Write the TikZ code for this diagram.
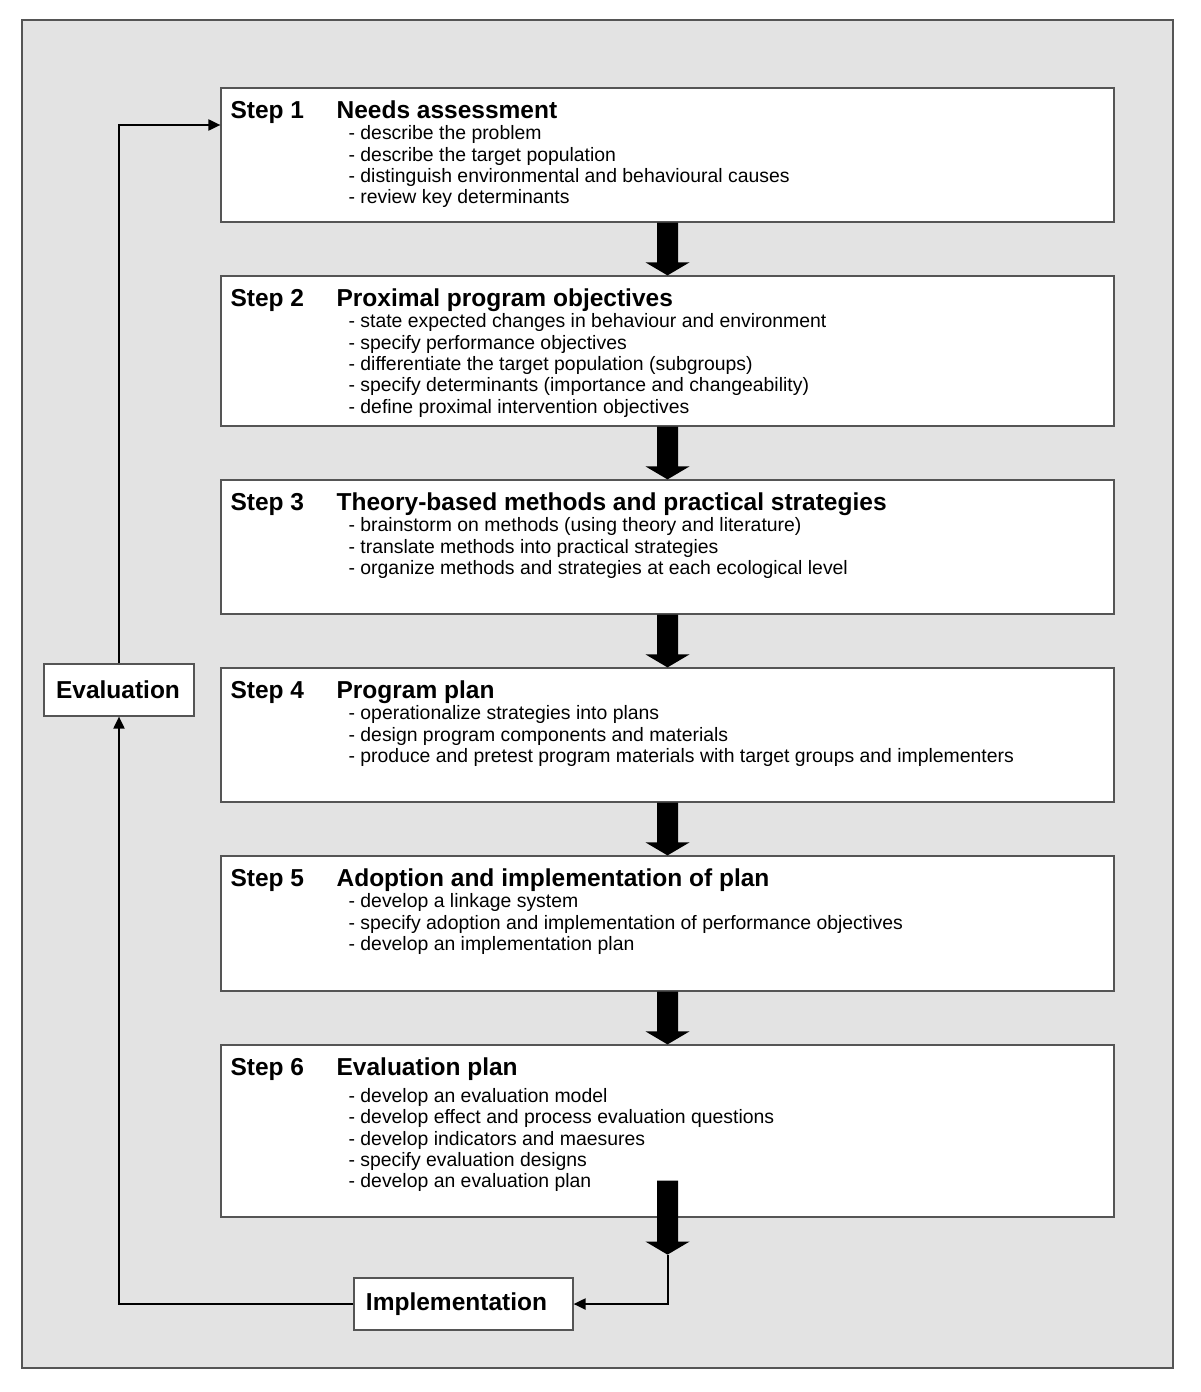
\documentclass[tikz,border=0pt]{standalone}
\usepackage{fontspec}
\setmainfont{Liberation Sans}
\usetikzlibrary{arrows.meta,calc}
\definecolor{bggray}{HTML}{E3E3E3}
\definecolor{edgegray}{HTML}{555555}
\tikzset{
  stepbox/.style={draw=edgegray, line width=1.2pt, fill=white, minimum width=893pt, inner sep=0pt},
  smallbox/.style={draw=edgegray, line width=1.2pt, fill=white, minimum height=52pt, inner sep=0pt, font=\fontsize{24.5}{28}\selectfont\bfseries},
  boldtxt/.style={inner sep=0pt, font=\fontsize{24.5}{28}\selectfont\bfseries},
  bodytxt/.style={inner sep=0pt, font=\fontsize{19.4}{21.3}\selectfont},
  thinarrow/.style={line width=2pt, -{Triangle[length=12pt,width=11pt]}},
}
\newcommand\mkstep[5]{%
  \node[stepbox, minimum height=#4pt] (#1) at (667.5,#3) {};
  \node[boldtxt, anchor=base west] (#1-lab) at ([xshift=10pt,yshift=-31pt]#1.north west) {Step #2};
  \node[boldtxt, anchor=base west] (#1-tit) at ([xshift=116pt,yshift=-31pt]#1.north west) {#5};
}
\newcommand\mklines[3]{%
  \foreach \t [count=\i] in {#3} {
    \node[bodytxt, anchor=base west] (#1-l\i) at ([xshift=128pt,yshift={-(#2+21.3*(\i-1))*1pt}]#1.north west) {\t};
  }
}
\newcommand\blockarrow[2]{%
  \fill ([xshift=-10.5pt]#1) -- ([xshift=-10.5pt,yshift=13pt]#2) -- ([xshift=-22pt,yshift=13pt]#2) -- (#2)
    -- ([xshift=22pt,yshift=13pt]#2) -- ([xshift=10.5pt,yshift=13pt]#2) -- ([xshift=10.5pt]#1) -- cycle;
}
\begin{document}
\begin{tikzpicture}[x=1pt,y=-1pt]
\useasboundingbox (0,0) rectangle (1200,1392);
\draw[draw=edgegray, line width=1.5pt, fill=bggray] (22,20) rectangle (1173,1368);

\mkstep{s1}{1}{155}{134}{Needs assessment}
\mklines{s1}{52.5}{{- describe the problem},{- describe the target population},{- distinguish environmental and behavioural causes},{- review key determinants}}

\mkstep{s2}{2}{351}{150}{Proximal program objectives}
\mklines{s2}{52.5}{{- state expected changes in behaviour and environment},{- specify performance objectives},{- differentiate the target population (subgroups)},{- specify determinants (importance and changeability)},{- define proximal intervention objectives}}

\mkstep{s3}{3}{547}{134}{Theory-based methods and practical strategies}
\mklines{s3}{52.5}{{- brainstorm on methods (using theory and literature)},{- translate methods into practical strategies},{- organize methods and strategies at each ecological level}}

\mkstep{s4}{4}{735}{134}{Program plan}
\mklines{s4}{52.5}{{- operationalize strategies into plans},{- design program components and materials},{- produce and pretest program materials with target groups and implementers}}

\mkstep{s5}{5}{923.5}{135}{Adoption and implementation of plan}
\mklines{s5}{52.5}{{- develop a linkage system},{- specify adoption and implementation of performance objectives},{- develop an implementation plan}}

\mkstep{s6}{6}{1131}{172}{Evaluation plan}
\mklines{s6}{58}{{- develop an evaluation model},{- develop effect and process evaluation questions},{- develop indicators and maesures},{- specify evaluation designs},{- develop an evaluation plan}}

\blockarrow{s1.south}{s2.north}
\blockarrow{s2.south}{s3.north}
\blockarrow{s3.south}{s4.north}
\blockarrow{s4.south}{s5.north}
\blockarrow{s5.south}{s6.north}

\coordinate (a6start) at ([yshift=37pt]s6.south);
\coordinate (a6tip) at ([yshift=-37pt]s6.south);
\blockarrow{a6start}{a6tip}

\node[smallbox, minimum width=150pt] (eval) at (119,690) {Evaluation\kern2pt};
\node[smallbox, minimum width=219pt] (impl) at (463.5,1304) {Implementation\kern14pt};

\draw[thinarrow] (a6tip) |- (impl.east);
\draw[thinarrow] (impl.west) -| (eval.south);
\draw[thinarrow] (eval.north) |- ([yshift=30pt]s1.west);
\end{tikzpicture}
\end{document}
